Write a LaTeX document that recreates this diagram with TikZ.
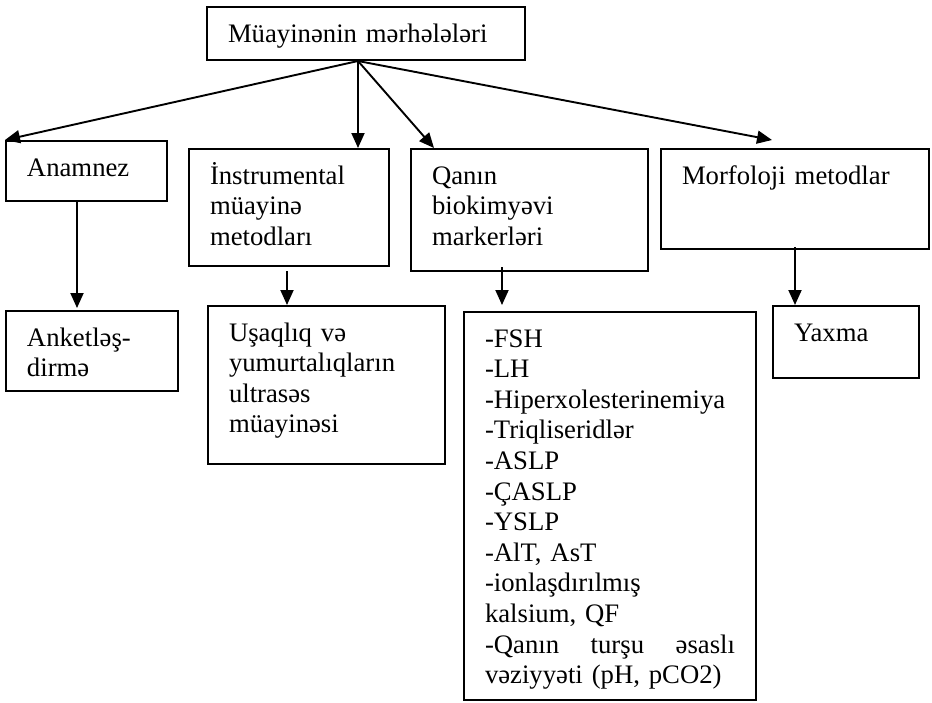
\documentclass[tikz,border=0pt]{standalone}
\usepackage{fontspec}
\setmainfont{Liberation Serif}
\usetikzlibrary{arrows.meta,positioning}

\tikzset{
  box/.style={draw, line width=2pt, anchor=north west, align=left,
    inner xsep=21pt, inner ysep=12pt, text height=23pt,
    font=\fontsize{26.7pt}{30.6pt}\selectfont},
  arr/.style={line width=1.9pt, -{Triangle[length=15pt,width=13pt]}}
}

\begin{document}
\begin{tikzpicture}[x=1pt,y=-1pt]
\useasboundingbox[fill=white] (0,0) rectangle (932,702);

% upper row
\node[box, text width=276pt, text depth=6pt] (top) at (206,6) {Müayinənin mərhələləri};
\node[box, text width=119pt, text depth=13pt] (anam) at (5,140) {Anamnez};
\node[box, text width=158pt, text depth=70pt] (instr) at (188,148) {İnstrumental\\müayinə\\metodları};
\node[box, text width=195pt, text depth=75pt] (qan) at (410,148) {Qanın\\biokimyəvi\\markerləri};
\node[box, text width=226pt, text depth=53pt] (morf) at (660,148) {Morfoloji metodlar};

% lower row
\node[box, text width=130pt, text depth=33pt] (anket) at (5,310) {Anketləş-\\dirmə};
\node[box, text width=195pt, text depth=111pt] (usaq) at (207,305) {Uşaqlıq və\\yumurtalıqların\\ultrasəs\\müayinəsi};
\node[box, text width=250pt, text depth=341pt] (fsh) at (463,311) {-FSH\\-LH\\-Hiperxolesterinemiya\\-Triqliseridlər\\-ASLP\\-ÇASLP\\-YSLP\\-AlT, AsT\\-ionlaşdırılmış\\kalsium, QF\\\makebox[250pt][s]{-Qanın\hfill turşu\hfill əsaslı}\\vəziyyəti (pH, pCO2)};
\node[box, text width=104pt, text depth=25pt] (yaxma) at (772,305) {Yaxma};

% arrows from the top box
\coordinate (hub) at (358,61);
\draw[arr] (hub) -- (anam.north west);
\draw[arr] (hub) -- (hub |- instr.north);
\draw[arr] (hub) -- ([xshift=24pt]qan.north west);
\draw[arr] (hub) -- ([xshift=112pt,yshift=8pt]morf.north west);

% arrows down
\draw[arr] ([xshift=72pt]anam.south west) -- ([xshift=72pt,yshift=2pt]anket.north west);
\draw[arr] ([xshift=99pt,yshift=-4pt]instr.south west) -- ([xshift=80pt]usaq.north west);
\draw[arr] ([xshift=92pt,yshift=5pt]qan.south west) -- ([xshift=39pt,yshift=6pt]fsh.north west);
\draw[arr] ([xshift=135pt,yshift=3pt]morf.south west) -- ([xshift=23pt]yaxma.north west);
\end{tikzpicture}
\end{document}
